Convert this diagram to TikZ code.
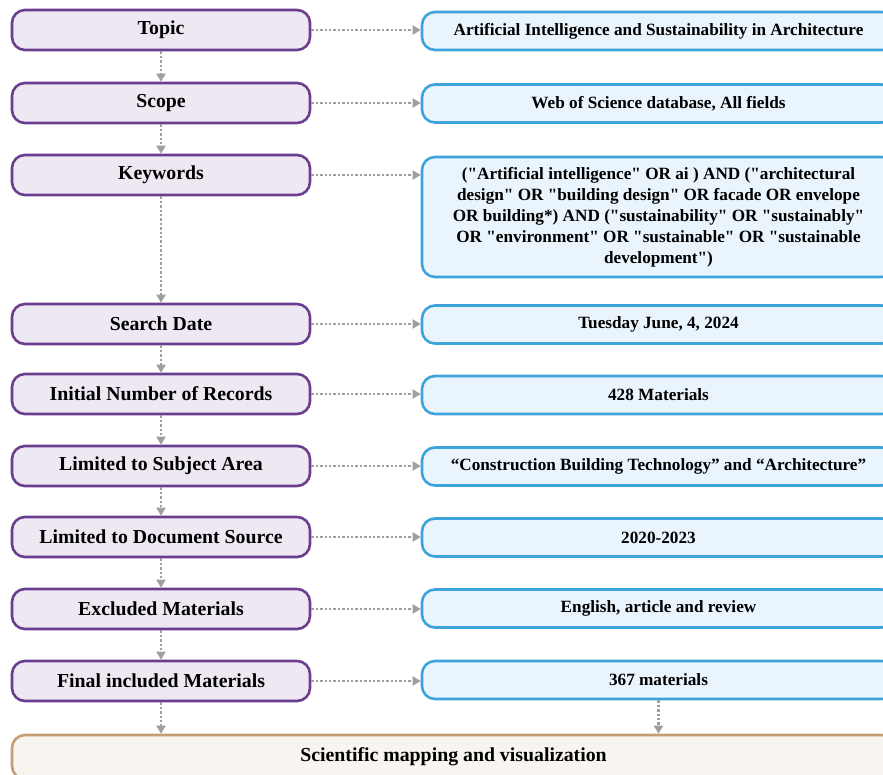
\documentclass[tikz,border=0pt]{standalone}
\usepackage{fontspec}
\setmainfont{Liberation Serif}[Ligatures=TeXOff]
\usetikzlibrary{positioning,arrows.meta}

\definecolor{stepborder}{HTML}{6B3D8E}
\definecolor{stepfill}{HTML}{EEE8F3}
\definecolor{infoborder}{HTML}{3DA3DC}
\definecolor{infofill}{HTML}{E9F4FC}
\definecolor{endborder}{HTML}{C49E72}
\definecolor{endfill}{HTML}{F8F4EF}

\tikzset{
  stepbox/.style={draw=stepborder, fill=stepfill, line width=2.6pt,
    rounded corners=13pt, minimum width=298pt, minimum height=40pt,
    font=\bfseries\fontsize{19.8}{22}\selectfont},
  infobox/.style={draw=infoborder, fill=infofill, line width=2.6pt,
    rounded corners=13pt, minimum width=473pt, minimum height=38pt,
    align=center, font=\bfseries\fontsize{17.2}{21}\selectfont},
  endbox/.style={draw=endborder, fill=endfill, line width=2.6pt,
    rounded corners=13pt, minimum width=883pt, minimum height=44pt,
    font=\bfseries\fontsize{19.8}{22}\selectfont},
  flow/.style={draw=gray!75, line width=2.4pt, dash pattern=on 2.4pt off 2pt,
    -{Triangle[length=8pt,width=9pt,fill=gray!75]}}
}

\begin{document}
\begin{tikzpicture}[x=1pt,y=-1pt]
\useasboundingbox (0,0) rectangle (883,774);

% left column
\foreach \y/\name/\descr in {30/topic/Topic,103/scope/Scope,175/keys/Keywords,
    324/date/Search Date,394/init/Initial Number of Records,
    466/area/Limited to Subject Area,537/source/Limited to Document Source,
    609/excl/Excluded Materials,681/final/Final included Materials}
\node[stepbox] (\name) at (161,\y) {\descr};

% right column
\node[infobox] (topicR) at (658.5,31) {Artificial Intelligence and Sustainability in Architecture};
\node[infobox] (scopeR) at (658.5,103.5) {Web of Science database, All fields};
\node[infobox, minimum height=120pt] (keysR) at (658.5,217)
  {("Artificial intelligence" OR ai ) AND ("architectural\\
   design" OR "building design" OR facade OR envelope\\
   OR building*) AND ("sustainability" OR "sustainably"\\
   OR "environment" OR "sustainable" OR "sustainable\\
   development")};
\node[infobox] (dateR) at (658.5,324.5) {Tuesday June, 4, 2024};
\node[infobox] (initR) at (658.5,395) {428 Materials};
\node[infobox] (areaR) at (658.5,466.5) {“Construction Building Technology” and “Architecture”};
\node[infobox] (sourceR) at (658.5,537.5) {2020-2023};
\node[infobox] (exclR) at (658.5,608.5) {English, article and review};
\node[infobox] (finalR) at (658.5,680) {367 materials};

\node[endbox] (mapping) at (453.5,757) {Scientific mapping and visualization};

% down arrows
\foreach \a/\b in {topic/scope,scope/keys,keys/date,date/init,init/area,
    area/source,source/excl,excl/final,final/mapping}
\draw[flow] (\a.south) -- (\a.south |- \b.north);
\draw[flow] (finalR.south) -- (finalR.south |- mapping.north);

% side arrows
\foreach \a in {topic,scope,keys,date,init,area,source,excl,final}
\draw[flow] (\a.east) -- (\a.east -| \a R.west);
\end{tikzpicture}
\end{document}
